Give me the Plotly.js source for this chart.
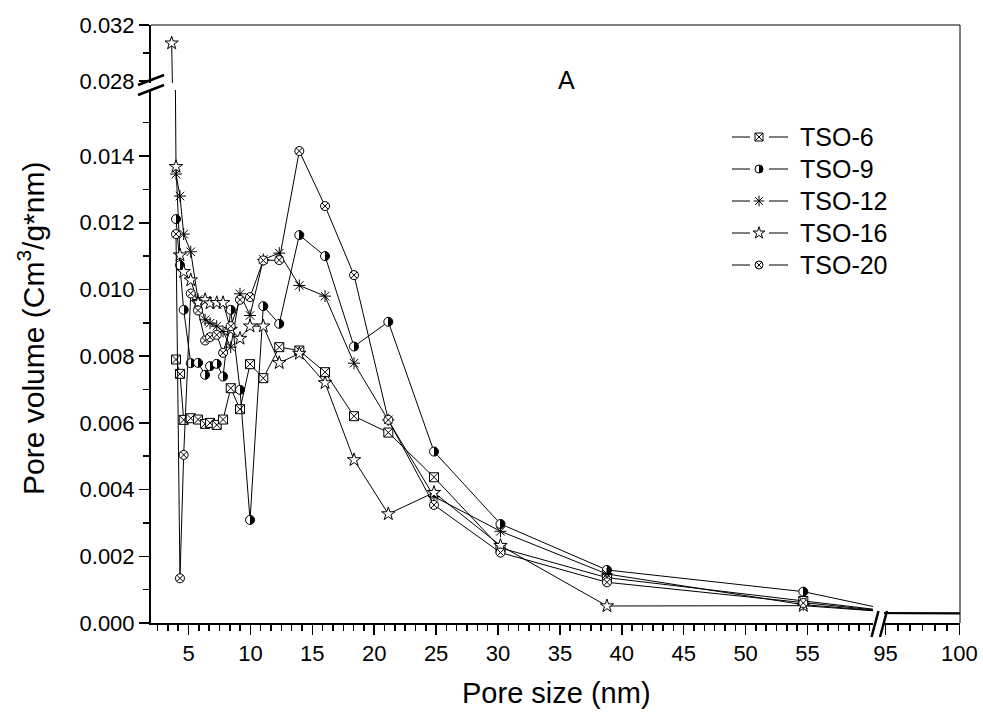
<!DOCTYPE html>
<html><head><meta charset="utf-8">
<script src="https://cdn.plot.ly/plotly-3.0.1.min.js"></script>
<style>html,body{margin:0;padding:0;background:#fff}#chart{width:983px;height:717px}</style>
</head><body><div id="chart"></div>
<script>
// ---- data ----
const poreSize   = [3.99, 4.31, 4.61, 5.18, 5.77, 6.34, 6.74, 7.28, 7.79, 8.41, 9.16, 9.97, 11.04, 12.33, 13.95, 16.03, 18.37, 21.14, 24.83, 30.2, 38.8, 54.66, 62, 120];
const poreSize16 = [3.64, 3.99, 4.31, 4.61, 5.18, 5.77, 6.34, 6.74, 7.28, 7.79, 8.41, 9.16, 9.97, 11.04, 12.33, 13.95, 16.03, 18.37, 21.14, 24.83, 30.2, 38.8, 54.66, 62, 120];
const tso6  = [0.0079, 0.00747, 0.00609, 0.00614, 0.0061, 0.00597, 0.0060, 0.00594, 0.0061, 0.00704, 0.00641, 0.00776, 0.00734, 0.00827, 0.00817, 0.00752, 0.0062, 0.00571, 0.00437, 0.00225, 0.00136, 0.00066, 0.00034, 0.00026];
const tso9  = [0.01211, 0.01073, 0.00939, 0.00779, 0.0078, 0.00744, 0.0077, 0.00777, 0.00739, 0.00939, 0.00699, 0.00309, 0.0095, 0.00897, 0.01163, 0.0110, 0.00829, 0.00903, 0.00514, 0.00297, 0.00159, 0.00094, 0.00036, 0.00028];
const tso12 = [0.01346, 0.0128, 0.01166, 0.01113, 0.0097, 0.00909, 0.00899, 0.0089, 0.00874, 0.00827, 0.00987, 0.00922, 0.0109, 0.01109, 0.01012, 0.0098, 0.00779, 0.00609, 0.00379, 0.00275, 0.00147, 0.00055, 0.00033, 0.00025];
const tso16 = [0.0307, 0.01368, 0.01103, 0.01053, 0.01028, 0.0096, 0.00969, 0.00959, 0.0096, 0.0096, 0.0088, 0.00853, 0.0089, 0.0089, 0.0078, 0.00808, 0.0072, 0.00489, 0.00327, 0.00391, 0.00232, 0.00051, 0.00052, 0.00032, 0.00025];
const tso20 = [0.01166, 0.00134, 0.00504, 0.00988, 0.00937, 0.00847, 0.00857, 0.00864, 0.0081, 0.0089, 0.00969, 0.00977, 0.01087, 0.01088, 0.01415, 0.0125, 0.01043, 0.00609, 0.00354, 0.00211, 0.00122, 0.0006, 0.00033, 0.00026];
const seriesNames = ['TSO-6', 'TSO-9', 'TSO-12', 'TSO-16', 'TSO-20'];
const xTicksLeft  = [5, 10, 15, 20, 25, 30, 35, 40, 45, 50, 55];
const xTicksRight = [95, 100];
const yTicksUpper = [0.028, 0.032];

// ---- styling / layout constants ----
const FONT = 'Liberation Sans, Arial, Helvetica, sans-serif';
const L = 151, R = 960, T = 25, B = 623;
const px2x = p => (p - L) / (R - L);
const py2y = p => (B - p) / (B - T);
const LEG = {row0: 137, rowGap: 32, line1: [732, 750], mark: 759, line2: [769, 788], text: 798, size: 25};

const markerStyles = [
  {symbol: 'square-x', size: 9, color: 'white', line: {color: 'black', width: 1}},
  {symbol: 'circle', size: 9, color: 'white', line: {color: 'black', width: 1}, gradient: {type: 'horizontal', color: 'black'}},
  {symbol: 'asterisk-open', size: 10, color: 'black', line: {color: 'black', width: 1}},
  {symbol: 'star', size: 10, color: 'white', line: {color: 'black', width: 1}},
  {symbol: 'circle-x', size: 9, color: 'white', line: {color: 'black', width: 1}}
];
const seriesX = [poreSize, poreSize, poreSize, poreSize16, poreSize];
const seriesY = [tso6, tso9, tso12, tso16, tso20];

const traces = [];
const shapes = [
  {type: 'line', xref: 'paper', yref: 'paper', x0: 0, y0: 1, x1: 1, y1: 1, line: {color: 'black', width: 1}},
  {type: 'line', xref: 'paper', yref: 'paper', x0: 1, y0: 0, x1: 1, y1: 1, line: {color: 'black', width: 1}}
];
const slash = (x0, y0, x1, y1) => ({type: 'line', xref: 'paper', yref: 'paper',
  x0: px2x(x0), y0: py2y(y0), x1: px2x(x1), y1: py2y(y1), line: {color: 'black', width: 2.5}});
shapes.push(slash(138, 85, 164, 75), slash(138, 95, 164, 85), slash(871.5, 637, 878.5, 611), slash(880, 637, 887, 611));

const annotations = [
  {text: 'A', xref: 'paper', yref: 'paper', x: px2x(566), y: py2y(80), showarrow: false,
    font: {family: FONT, size: 25, color: 'black'}, xanchor: 'center', yanchor: 'middle'},
  {text: 'Pore size (nm)', xref: 'paper', yref: 'paper', x: px2x(556), y: py2y(693), showarrow: false,
    font: {family: FONT, size: 29, color: 'black'}, xanchor: 'center', yanchor: 'middle'},
  {text: 'Pore volume (Cm<sup>3</sup>/g*nm)', xref: 'paper', yref: 'paper', x: px2x(31), y: py2y(329),
    showarrow: false, textangle: -90, font: {family: FONT, size: 30, color: 'black'},
    xanchor: 'center', yanchor: 'middle'}
];

seriesNames.forEach((nm, i) => {
  const base = {type: 'scatter', mode: 'lines+markers', name: nm, x: seriesX[i], y: seriesY[i],
    line: {color: 'black', width: 1}, marker: markerStyles[i], hoverinfo: 'skip', showlegend: false};
  traces.push(Object.assign({}, base, {xaxis: 'x', yaxis: 'y'}));
  traces.push(Object.assign({}, base, {xaxis: 'x2', yaxis: 'y'}));
  traces.push(Object.assign({}, base, {xaxis: 'x', yaxis: 'y2'}));
  // legend entry: line - marker - line, then the name
  const ry = LEG.row0 + i * LEG.rowGap;
  shapes.push({type: 'line', xref: 'paper', yref: 'paper', x0: px2x(LEG.line1[0]), x1: px2x(LEG.line1[1]),
    y0: py2y(ry), y1: py2y(ry), line: {color: 'black', width: 1}});
  shapes.push({type: 'line', xref: 'paper', yref: 'paper', x0: px2x(LEG.line2[0]), x1: px2x(LEG.line2[1]),
    y0: py2y(ry), y1: py2y(ry), line: {color: 'black', width: 1}});
  traces.push({type: 'scatter', mode: 'markers', x: [px2x(LEG.mark)], y: [py2y(ry)], xaxis: 'x3', yaxis: 'y3',
    marker: Object.assign({}, markerStyles[i], {size: markerStyles[i].size - 1}), hoverinfo: 'skip',
    showlegend: false, cliponaxis: false});
  annotations.push({text: nm, xref: 'paper', yref: 'paper', x: px2x(LEG.text), y: py2y(ry), showarrow: false,
    xanchor: 'left', yanchor: 'middle', font: {family: FONT, size: LEG.size, color: 'black'}});
});

const tickCommon = {ticks: 'outside', ticklen: 10, tickwidth: 1.5, tickcolor: 'black',
  showline: true, linewidth: 2, linecolor: 'black', showgrid: false, zeroline: false,
  tickfont: {family: FONT, size: 22, color: 'black'}};
const minorCommon = {ticks: 'outside', ticklen: 6, tickwidth: 1.5, tickcolor: 'black', showgrid: false};

const layout = {
  width: 983, height: 717,
  margin: {l: L, r: 983 - R, t: T, b: 717 - B, pad: 0},
  paper_bgcolor: 'white', plot_bgcolor: 'rgba(0,0,0,0)',
  font: {family: FONT, size: 22, color: 'black'},
  showlegend: false,
  xaxis: Object.assign({}, tickCommon, {domain: [0, px2x(873)], range: [1.97, 60.29], anchor: 'y',
    tickmode: 'array', tickvals: xTicksLeft, ticktext: xTicksLeft.map(String),
    minor: Object.assign({tickmode: 'linear', tick0: 0, dtick: 5 / 6}, minorCommon)}),
  xaxis2: Object.assign({}, tickCommon, {domain: [px2x(884), 1], range: [94.9, 100.04], anchor: 'y',
    tickmode: 'array', tickvals: xTicksRight, ticktext: xTicksRight.map(String),
    minor: Object.assign({tickmode: 'linear', tick0: 95, dtick: 5 / 6}, minorCommon)}),
  yaxis: Object.assign({}, tickCommon, {domain: [0, py2y(90)], range: [0, 0.01598], anchor: 'x',
    tickmode: 'linear', tick0: 0, dtick: 0.002, tickformat: '.3f',
    minor: Object.assign({tickmode: 'linear', tick0: 0, dtick: 0.001}, minorCommon)}),
  yaxis2: Object.assign({}, tickCommon, {domain: [py2y(83), 1], range: [0.02785, 0.032], anchor: 'x',
    tickmode: 'array', tickvals: yTicksUpper, ticktext: yTicksUpper.map(v => v.toFixed(3)),
    minor: Object.assign({tickmode: 'linear', tick0: 0.028, dtick: 0.002}, minorCommon)}),
  xaxis3: {domain: [0, 1], range: [0, 1], anchor: 'y3', visible: false, fixedrange: true},
  yaxis3: {domain: [0, 1], range: [0, 1], anchor: 'x3', visible: false, fixedrange: true},
  shapes: shapes,
  annotations: annotations
};

function sharpenHalfCircles() {
  document.querySelectorAll('linearGradient').forEach(g => {
    const stops = g.querySelectorAll('stop');
    if (stops.length !== 2) return;
    const c0 = stops[0].getAttribute('stop-color'), c1 = stops[1].getAttribute('stop-color');
    const o0 = stops[0].getAttribute('stop-opacity') || '1', o1 = stops[1].getAttribute('stop-opacity') || '1';
    while (g.firstChild) g.removeChild(g.firstChild);
    [['0%', c0, o0], ['50%', c0, o0], ['50%', c1, o1], ['100%', c1, o1]].forEach(s => {
      const st = document.createElementNS('http://www.w3.org/2000/svg', 'stop');
      st.setAttribute('offset', s[0]); st.setAttribute('stop-color', s[1]); st.setAttribute('stop-opacity', s[2]);
      g.appendChild(st);
    });
  });
}

Plotly.newPlot('chart', traces, layout, {displayModeBar: false, staticPlot: true, responsive: false})
  .then(() => { sharpenHalfCircles(); setTimeout(sharpenHalfCircles, 50); });
</script>
</body></html>
